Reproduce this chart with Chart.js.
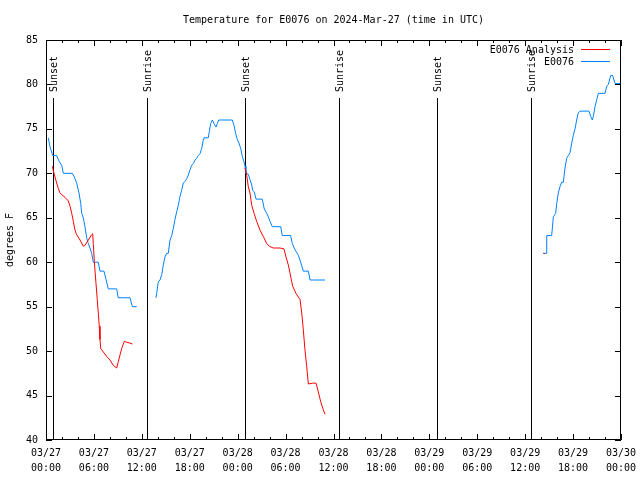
<!DOCTYPE html>
<html>
<head>
<meta charset="utf-8">
<title>Temperature for E0076</title>
<script src="https://cdn.jsdelivr.net/npm/chart.js@4.4.1/dist/chart.umd.min.js"></script>
<style>
  html, body { margin: 0; padding: 0; background: #fff; }
</style>
</head>
<body>
<canvas id="tempChart" width="640" height="480"></canvas>
<script>
// hours since 03/27 00:00 UTC, null temp = gap in the record
const obsHours = [
  0.29, 0.50, 0.84, 1.34, 1.67, 1.97, 2.17, 3.29, 3.54, 3.84, 4.13, 4.35, 4.47, 4.67, 4.88,
  5.10, 5.30, 5.51, 5.72, 5.92, 6.55, 6.76, 7.26, 7.48, 7.80, 8.85, 9.05, 10.52, 10.81, 11.36,
  12.5,
  13.77, 13.86, 14.06, 14.28, 14.49, 14.69, 14.90, 15.11, 15.31, 15.53, 15.74, 15.94, 16.15,
  16.37, 16.57, 16.78, 16.99, 17.19, 17.41, 17.62, 17.82, 18.03, 18.24, 18.44, 18.66, 18.87,
  19.07, 19.28, 19.50, 19.70, 19.78, 20.32, 20.45, 20.62, 20.82, 21.04, 21.29, 21.45, 21.63,
  23.33, 23.54, 23.75, 23.95, 24.17, 24.38, 24.58, 24.79, 24.92, 25.04, 25.33, 25.54, 25.76,
  25.88, 26.08, 26.30, 27.08, 27.33, 27.64, 27.84, 28.05, 28.34, 29.39, 29.59, 30.64, 30.84,
  31.18, 31.59, 31.89, 32.22, 32.85, 33.06, 34.94,
  48.0,
  62.27, 62.61, 62.70, 63.32, 63.53, 63.82, 63.95, 64.15, 64.36, 64.57, 64.78, 64.99, 65.20,
  65.40, 65.61, 65.83, 66.03, 66.24, 66.45, 66.65, 66.87, 67.99, 68.21, 68.41, 68.53, 68.75,
  68.96, 69.16, 70.00, 70.21, 70.41, 70.71, 70.96, 71.25, 72.0
];
const obsTemps = [
  74, 73, 72, 72, 71.3, 70.9, 70, 70, 69.6, 68.9, 67.8, 66.6, 65.5, 65, 64,
  62.7, 62.1, 61.6, 61, 60, 60, 59, 59, 58.2, 57, 57, 56, 56, 55, 55,
  null,
  56, 56.5, 57.8, 58, 58.6, 59.7, 60.6, 61, 61, 62.5, 63, 63.8, 64.8,
  65.7, 66.4, 67.4, 68.1, 68.9, 69.1, 69.4, 69.8, 70.4, 70.9, 71.1, 71.5, 71.7,
  72, 72.2, 72.8, 73.8, 74, 74, 74.7, 75.6, 76, 75.6, 75.2, 75.6, 76,
  76, 75.4, 74.5, 73.8, 73.4, 72.8, 71.9, 71.3, 70.8, 70, 69.9, 69.3, 68.7,
  68.1, 67.9, 67.1, 67.1, 66, 65.5, 65.1, 64.6, 64, 64, 63, 63, 62.1,
  61.4, 60.8, 60, 59, 59, 58, 58,
  null,
  61, 61, 63, 63, 65.1, 65.5, 66.6, 67.8, 68.5, 69, 69, 70.6, 71.7,
  72, 72.3, 73.4, 74.3, 75, 76, 76.8, 77, 77, 76.4, 76, 76.4, 77.5,
  78.3, 79, 79, 79.8, 80, 81, 81, 80.1, 80.1
];
const anaHours = [
  0.79, 1.00, 1.34, 1.54, 1.75, 1.97, 2.38, 2.79, 3.01, 3.22, 3.42, 3.63, 3.84, 4.26, 4.67,
  4.88, 5.30, 5.72, 5.85, 5.92, 6.05, 6.26, 6.42, 6.55, 6.67, 6.76, 6.85, 7.18, 7.60, 8.01,
  8.43, 8.85, 9.05, 9.48, 9.80, 10.11, 10.52, 10.81,
  18.0,
  24.92, 25.13, 25.33, 25.54, 25.76, 26.05, 26.38, 26.80, 27.21, 27.64, 27.96, 28.46, 29.30,
  29.80, 30.05, 30.34, 30.55, 30.77, 30.89, 31.30, 31.81, 32.02, 32.22, 32.43, 32.64, 32.85,
  33.40, 33.81, 34.10, 34.40, 34.72, 34.94,
  48.0,
  62.27, 62.45
];
const anaTemps = [
  70.8, 70.0, 68.9, 68.3, 67.8, 67.6, 67.3, 66.9, 66.3, 65.5, 64.6, 63.6, 63.1, 62.5, 61.8,
  61.9, 62.5, 63.1, 63.2, 62.1, 60.1, 57.6, 55.8, 54.3, 52.8, 51.3, 50.3, 49.9, 49.4, 49.0,
  48.4, 48.1, 48.8, 50.3, 51.1, 51.0, 50.9, 50.8,
  null,
  70.6, 69.8, 68.5, 67.8, 66.4, 65.5, 64.6, 63.6, 62.9, 62.1, 61.8, 61.6, 61.6,
  61.5, 60.6, 59.7, 58.8, 57.8, 57.3, 56.5, 55.8, 54.3, 52.4, 50.1, 48.3, 46.3,
  46.4, 46.4, 45.4, 44.3, 43.4, 42.9,
  null,
  61.0, 61.0
];
const sunHours = [0.9, 12.68, 24.93, 36.69, 48.9, 60.67];
const sunLabels = ['Sunset', 'Sunrise', 'Sunset', 'Sunrise', 'Sunset', 'Sunrise'];
const tickDays = ['03/27', '03/28', '03/29', '03/30'];
const seriesLabels = ['E0076 Analysis', 'E0076'];
const seriesColors = ['#ff0000', '#0080ff'];

const FONT = '10px "DejaVu Sans Mono", "Liberation Mono", monospace';

const toPoints = (hs, ts) => hs.map((h, i) => ({ x: h, y: ts[i] }));

const gnuplotLook = {
    id: 'gnuplotLook',
    beforeDatasetsDraw(chart) {
        const { ctx, chartArea: a, scales: { x } } = chart;
        ctx.save();
        ctx.strokeStyle = '#000';
        ctx.fillStyle = '#000';
        ctx.lineWidth = 1;
        ctx.font = FONT;
        // sunrise / sunset markers
        sunHours.forEach((h, i) => {
            const px = Math.round(x.getPixelForValue(h)) + 0.5;
            ctx.beginPath();
            ctx.moveTo(px, 98);
            ctx.lineTo(px, a.bottom);
            ctx.stroke();
            ctx.save();
            ctx.translate(px + 1, 92);
            ctx.rotate(-Math.PI / 2);
            ctx.textAlign = 'left';
            ctx.textBaseline = 'middle';
            ctx.fillText(sunLabels[i], 0, 0);
            ctx.restore();
        });
        ctx.restore();
    },
    afterDatasetsDraw(chart) {
        const { ctx, chartArea: a, scales: { x, y } } = chart;
        ctx.save();
        ctx.strokeStyle = '#000';
        ctx.fillStyle = '#000';
        ctx.lineWidth = 1;

        // frame
        ctx.strokeRect(a.left + 0.5, a.top + 0.5, a.right - a.left - 1, a.bottom - a.top - 1);

        // inward ticks, major every 6 h, minor every 2 h
        ctx.beginPath();
        for (let h = 0; h <= 72; h += 2) {
            const px = Math.round(x.getPixelForValue(h)) + 0.5;
            const len = h % 6 === 0 ? 6 : 3;
            ctx.moveTo(px, a.bottom);
            ctx.lineTo(px, a.bottom - len);
            ctx.moveTo(px, a.top);
            ctx.lineTo(px, a.top + len);
        }
        for (let t = 40; t <= 85; t += 5) {
            const py = Math.round(y.getPixelForValue(t)) + 0.5;
            ctx.moveTo(a.left, py);
            ctx.lineTo(a.left + 6, py);
            ctx.moveTo(a.right, py);
            ctx.lineTo(a.right - 6, py);
        }
        ctx.stroke();

        ctx.font = FONT;
        // title
        ctx.textAlign = 'center';
        ctx.textBaseline = 'middle';
        ctx.fillText('Temperature for E0076 on 2024-Mar-27 (time in UTC)', (a.left + a.right) / 2, 20);

        // y axis label
        ctx.save();
        ctx.translate(10, (a.top + a.bottom) / 2);
        ctx.rotate(-Math.PI / 2);
        ctx.fillText('degrees F', 0, 0);
        ctx.restore();

        // key, top right inside the plot
        chart.data.datasets.forEach((ds, i) => {
            const ly = 50 + i * 12;
            ctx.fillStyle = '#000';
            ctx.textAlign = 'right';
            ctx.fillText(ds.label, 574, ly + 0.5);
            ctx.strokeStyle = ds.borderColor;
            ctx.beginPath();
            ctx.moveTo(581, ly - 0.5);
            ctx.lineTo(610, ly - 0.5);
            ctx.stroke();
        });
        ctx.restore();
    }
};

new Chart(document.getElementById('tempChart'), {
    type: 'line',
    data: {
        datasets: [
            {
                label: seriesLabels[0],
                data: toPoints(anaHours, anaTemps),
                borderColor: seriesColors[0],
                borderWidth: 1,
                pointRadius: 0,
                spanGaps: false,
                tension: 0
            },
            {
                label: seriesLabels[1],
                data: toPoints(obsHours, obsTemps),
                borderColor: seriesColors[1],
                borderWidth: 1,
                pointRadius: 0,
                spanGaps: false,
                tension: 0
            }
        ]
    },
    options: {
        responsive: false,
        animation: false,
        layout: { padding: { top: 40, right: 19, left: 0, bottom: 0 } },
        plugins: {
            legend: { display: false },
            title: { display: false },
            tooltip: { enabled: false }
        },
        scales: {
            x: {
                type: 'linear',
                min: 0,
                max: 72,
                grid: { display: false, drawTicks: false },
                border: { display: false },
                afterFit: (scale) => {
                    scale.height = 40;
                    scale.paddingLeft = 0;
                    scale.paddingRight = 0;
                },
                ticks: {
                    stepSize: 6,
                    autoSkip: false,
                    maxRotation: 0,
                    padding: 6,
                    color: '#000',
                    font: { family: '"DejaVu Sans Mono", monospace', size: 10, lineHeight: 1.5 },
                    callback: (v) => {
                        const hh = String(v % 24).padStart(2, '0');
                        return [tickDays[Math.floor(v / 24)], hh + ':00'];
                    }
                }
            },
            y: {
                min: 40,
                max: 85,
                grid: { display: false, drawTicks: false },
                border: { display: false },
                afterFit: (scale) => {
                    scale.width = 46;
                    scale.paddingTop = 0;
                    scale.paddingBottom = 0;
                },
                ticks: {
                    stepSize: 5,
                    padding: 8,
                    color: '#000',
                    font: { family: '"DejaVu Sans Mono", monospace', size: 10 }
                }
            }
        }
    },
    plugins: [gnuplotLook]
});
</script>
</body>
</html>
